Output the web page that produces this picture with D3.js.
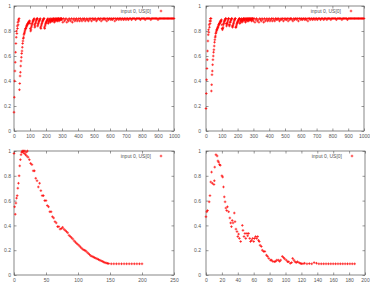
<!DOCTYPE html>
<html><head><meta charset="utf-8">
<script src="https://cdn.jsdelivr.net/npm/d3@7"></script>
<style>
html,body{margin:0;padding:0;background:#fff;}
svg{display:block;}
text{font-family:"Liberation Sans",Arial,sans-serif;}
</style></head><body>
<svg id="c" width="370" height="287"></svg>
<script>
// ---------- data ----------
const legendLabel = "input 0, US[0]";
const yTicks = [0, 0.2, 0.4, 0.6, 0.8, 1];

// top panels: dense part sampled every 2 (x 0..298), then every 5 (x 300..1000)
const denseStep = 2, sparseStart = 300, sparseStep = 5;
const tlDense = [
  0.15,0.27,0.40,0.48,0.55,0.63,0.70,
  0.75,0.80,0.78,0.84,0.82,0.87,0.85,0.89,0.88,0.90,
  0.33,0.38,0.44,0.47,0.52,0.56,0.59,0.62,
  0.64,0.67,0.70,0.72,0.74,0.75,0.77,0.78,0.79,0.80,
  0.81,0.82,0.82,0.83,0.84,0.84,0.85,0.85,0.86,0.86,0.87,0.87,0.87,0.88,0.88,
  0.86,0.82,0.80,0.81,0.83,0.84,0.85,0.86,0.87,0.88,
  0.88,0.89,0.89,0.90,0.85,0.83,0.84,0.86,0.87,0.88,
  0.89,0.89,0.90,0.90,0.84,0.85,0.86,0.87,0.88,0.88,
  0.89,0.89,0.90,0.83,0.82,0.84,0.85,0.86,0.87,0.88,
  0.88,0.89,0.89,0.90,0.90,0.83,0.82,0.84,0.85,0.86,
  0.87,0.87,0.88,0.88,0.89,0.89,0.90,0.86,0.87,0.88,
  0.88,0.89,0.89,0.90,0.87,0.88,0.88,0.89,0.89,0.90,
  0.88,0.88,0.89,0.89,0.90,0.90,0.87,0.88,0.89,0.89,
  0.90,0.88,0.89,0.89,0.90,0.90,0.88,0.89,0.89,0.90,
  0.90,0.88,0.89,0.89,0.90,0.90,0.89,0.89,0.90,0.90
];
const tlSparse = [
  0.89,0.87,0.90,0.88,0.89,0.90,0.87,0.89,0.88,0.90,0.89,0.88,0.90,0.87,0.89,0.90,0.88,0.89,0.90,0.88,
  0.89,0.90,0.88,0.90,0.89,0.88,0.90,0.89,0.90,0.88,0.89,
  0.90,0.89,0.88,0.90,0.89,0.90,0.88,0.90,0.89,0.90,
  0.89,0.90,0.88,0.89,0.90,0.90,0.89,0.90,0.88,0.90,
  0.89,0.90,0.90,0.89,0.90,0.88,0.90,0.89,0.90,0.90,
  0.89,0.90,0.89,0.90,0.90,0.88,0.90,0.89,0.90,0.90,
  0.89,0.90,0.90,0.89,0.90,0.90,0.89,0.90,0.90,0.89,
  0.90,0.90,0.89,0.90,0.90,0.90,0.89,0.90,0.90,0.90,
  0.90,0.89,0.90,0.90,0.90,0.90,0.90,0.89,0.90,0.90,
  0.90,0.90,0.90,0.89,0.90,0.90,0.90,0.90,0.90,0.90,
  0.89,0.90,0.90,0.90,0.90,0.90,0.90,0.90,0.90,0.89,
  0.90,0.90,0.90,0.90,0.90,0.90,0.90,0.90,0.90,0.90,
  0.90,0.90,0.90,0.90,0.90,0.90,0.90,0.90,0.90,0.90
];

const trDense = [
  0.18,0.30,0.41,0.50,0.57,0.64,0.72,
  0.77,0.81,0.79,0.85,0.83,0.88,0.86,0.90,0.88,0.90,
  0.32,0.37,0.45,0.48,0.53,0.57,0.60,0.63,
  0.65,0.68,0.71,0.73,0.75,0.76,0.78,0.79,0.80,0.81,
  0.81,0.82,0.83,0.83,0.84,0.85,0.85,0.86,0.86,0.87,0.87,0.88,0.88,0.88,0.89,
  0.85,0.82,0.81,0.82,0.83,0.85,0.86,0.87,0.88,0.88,
  0.89,0.89,0.90,0.90,0.86,0.84,0.85,0.86,0.87,0.88,
  0.89,0.90,0.90,0.85,0.84,0.85,0.87,0.87,0.88,0.89,
  0.89,0.90,0.90,0.84,0.83,0.84,0.85,0.86,0.87,0.88,
  0.89,0.89,0.90,0.90,0.83,0.83,0.84,0.85,0.86,0.87,
  0.87,0.88,0.88,0.89,0.89,0.90,0.90,0.86,0.87,0.88,
  0.89,0.89,0.90,0.88,0.87,0.88,0.89,0.89,0.90,0.90,
  0.88,0.89,0.89,0.90,0.90,0.87,0.88,0.89,0.89,0.90,
  0.90,0.88,0.89,0.90,0.90,0.88,0.89,0.89,0.90,0.90,
  0.89,0.89,0.90,0.90,0.88,0.89,0.90,0.90,0.89,0.90
];
const trSparse = [
  0.88,0.90,0.87,0.89,0.90,0.88,0.89,0.87,0.90,0.89,0.88,0.90,0.89,0.87,0.90,0.88,0.89,0.90,0.88,0.89,
  0.90,0.88,0.89,0.90,0.88,0.90,0.89,0.88,0.90,0.89,0.90,
  0.89,0.90,0.88,0.89,0.90,0.89,0.90,0.88,0.90,0.89,
  0.90,0.89,0.90,0.88,0.90,0.89,0.90,0.90,0.89,0.88,
  0.90,0.89,0.90,0.90,0.89,0.90,0.88,0.90,0.90,0.89,
  0.90,0.89,0.90,0.90,0.89,0.90,0.89,0.90,0.88,0.90,
  0.90,0.89,0.90,0.90,0.89,0.90,0.90,0.89,0.90,0.90,
  0.89,0.90,0.90,0.90,0.89,0.90,0.90,0.90,0.89,0.90,
  0.90,0.90,0.89,0.90,0.90,0.90,0.90,0.89,0.90,0.90,
  0.90,0.90,0.90,0.90,0.89,0.90,0.90,0.90,0.90,0.90,
  0.90,0.89,0.90,0.90,0.90,0.90,0.90,0.90,0.89,0.90,
  0.90,0.90,0.90,0.90,0.90,0.90,0.90,0.90,0.90,0.90,
  0.90,0.90,0.90,0.90,0.90,0.90,0.90,0.90,0.90,0.90
];

// bottom-left
const blX = [
  0,1,2,3,4,5,6,7,8,9,10,11,12,13,14,15,16,17,18,19,20,21,22,
  24,26,28,30,32,34,36,38,40,42,44,46,48,50,52,54,56,58,60,62,64,66,68,70,72,74,76,78,80,
  82,84,86,88,90,92,94,96,98,100,102,104,106,108,110,112,114,116,118,120,122,124,126,128,130,
  132,134,136,138,140,142,144,146,148,
  152,156,160,164,168,172,176,180,184,188,192,196,200
];
const blY = [
  0.98,0.55,0.49,0.58,0.62,0.64,0.70,0.74,0.80,0.88,0.93,0.97,0.99,1.00,0.99,1.00,0.98,1.00,0.97,0.99,0.96,1.00,0.95,
  0.93,0.90,0.89,0.84,0.84,0.78,0.76,0.71,0.74,0.68,0.64,0.64,0.60,0.60,0.56,0.55,0.51,0.51,0.47,0.46,0.43,0.42,0.39,0.39,0.37,0.375,0.385,0.37,0.36,
  0.35,0.34,0.32,0.31,0.30,0.29,0.275,0.265,0.255,0.245,0.235,0.225,0.215,0.205,0.20,0.195,0.185,0.175,0.165,0.155,0.15,0.145,0.14,0.135,0.13,
  0.125,0.12,0.115,0.11,0.105,0.10,0.097,0.094,0.092,
  0.09,0.09,0.09,0.09,0.09,0.09,0.09,0.09,0.09,0.09,0.09,0.09,0.09
];

// bottom-right
const brX = [
  0,1,2,4,5,6,7,8,10,10.5,11,12.5,14,15,16,17,18,20,21,22,23,24,25,26,27,28.5,30,31,32,33,34,35.6,36.5,37.7,39,40,41,42,43.6,
  45.7,46.5,47.8,49,50,51.5,52.4,53.6,55,56,57.4,58.7,60,61,62.4,63.7,65,66,67,68,69.6,70.8,72.5,74,76,77.5,79,81,82.5,84,86,
  87.6,89,91,92.6,94,96,97.6,99,101,102.6,104,106,107.7,109,110.6,112,113.5,115,117,118.6,120,122,
  124,127,130,133,136,139,142,145,148,151,154,157,160,163,166,169,172,175,178,181,184,187
];
const brY = [
  0.47,0.51,0.52,0.59,0.64,0.75,0.83,0.74,0.73,0.76,0.87,0.97,0.96,0.92,0.91,0.89,0.885,0.80,0.79,0.71,0.63,0.59,0.54,0.52,0.55,0.51,0.46,0.42,0.39,0.44,0.42,0.50,0.43,0.37,0.35,0.31,0.33,0.295,0.27,
  0.40,0.36,0.31,0.335,0.295,0.335,0.316,0.335,0.295,0.27,0.28,0.295,0.27,0.295,0.31,0.295,0.31,0.28,0.27,0.24,0.23,0.20,0.19,0.19,0.16,0.15,0.134,0.12,0.12,0.11,0.107,
  0.11,0.12,0.12,0.11,0.12,0.15,0.14,0.13,0.12,0.107,0.107,0.094,0.10,0.134,0.12,0.107,0.10,0.107,0.10,0.094,0.091,0.091,
  0.095,0.09,0.092,0.09,0.10,0.095,0.09,0.09,0.09,0.09,0.09,0.09,0.09,0.09,0.09,0.09,0.09,0.09,0.09,0.09,0.09,0.09
];

const tlPts = tlDense.map((v,i)=>[i*denseStep, v]).concat(tlSparse.map((v,i)=>[sparseStart+i*sparseStep, v]));
const trPts = trDense.map((v,i)=>[i*denseStep, v]).concat(trSparse.map((v,i)=>[sparseStart+i*sparseStep, v]));
const blPts = blX.map((x,i)=>[x, blY[i]]);
const brPts = brX.map((x,i)=>[x, brY[i]]);

// ---------- panels ----------
const panels = [
  {pts: tlPts, xd:[0,1000], xt:d3.range(0,1001,100), x0:14,  x1:174, y0:131, y1:6,   lab:3},
  {pts: trPts, xd:[0,1000], xt:d3.range(0,1001,100), x0:206, x1:364, y0:131, y1:6,   lab:5},
  {pts: blPts, xd:[0,250],  xt:d3.range(0,251,50),   x0:14,  x1:174, y0:275, y1:151, lab:3},
  {pts: brPts, xd:[0,200],  xt:d3.range(0,201,20),   x0:206, x1:365, y0:275, y1:151, lab:5}
];

const svg = d3.select("#c");
const axisCol = "#555", labCol = "#555";
const plus = "M-1.3,0H1.3M0,-1.3V1.3";

panels.forEach(p => {
  const x = d3.scaleLinear().domain(p.xd).range([p.x0, p.x1]);
  const y = d3.scaleLinear().domain([0,1]).range([p.y0, p.y1]);
  const g = svg.append("g");

  g.append("rect").attr("x", p.x0).attr("y", p.y1)
    .attr("width", p.x1-p.x0).attr("height", p.y0-p.y1)
    .attr("fill","none").attr("stroke",axisCol).attr("stroke-width",0.7);

  const style = sel => {
    sel.select(".domain").remove();
    sel.selectAll("line").attr("stroke",axisCol).attr("stroke-width",0.6);
    sel.selectAll("text").attr("fill",labCol).style("font-size","5px")
       .style("font-family","'Liberation Sans',Arial,sans-serif");
  };

  g.append("g").attr("transform",`translate(${p.x0},0)`)
    .call(d3.axisLeft(y).tickValues(yTicks).tickSize(-2.5).tickPadding(p.lab).tickFormat(d3.format("~g")))
    .call(style);
  g.append("g").attr("transform",`translate(${p.x1},0)`)
    .call(d3.axisRight(y).tickValues(yTicks).tickSize(-2.5).tickFormat(""))
    .call(style);
  g.append("g").attr("transform",`translate(0,${p.y0})`)
    .call(d3.axisBottom(x).tickValues(p.xt).tickSize(-2.5).tickPadding(3).tickFormat(d3.format("d")))
    .call(style);
  g.append("g").attr("transform",`translate(0,${p.y1})`)
    .call(d3.axisTop(x).tickValues(p.xt).tickSize(-2.5).tickFormat(""))
    .call(style);

  g.append("g").selectAll("path").data(p.pts).join("path")
    .attr("transform", d => `translate(${x(d[0])},${y(d[1])})`)
    .attr("d", plus).attr("stroke","#ff0000").attr("stroke-width",0.7).attr("fill","none");

  const ly = p.y1 + 5;
  g.append("text").attr("x", p.x1-23).attr("y", ly).attr("dy","0.35em")
    .attr("text-anchor","end").attr("fill",labCol).style("font-size","5px").text(legendLabel);
  g.append("path").attr("transform",`translate(${p.x1-13},${ly})`)
    .attr("d", plus).attr("stroke","#ff0000").attr("stroke-width",0.7).attr("fill","none");
});
</script>
</body></html>
